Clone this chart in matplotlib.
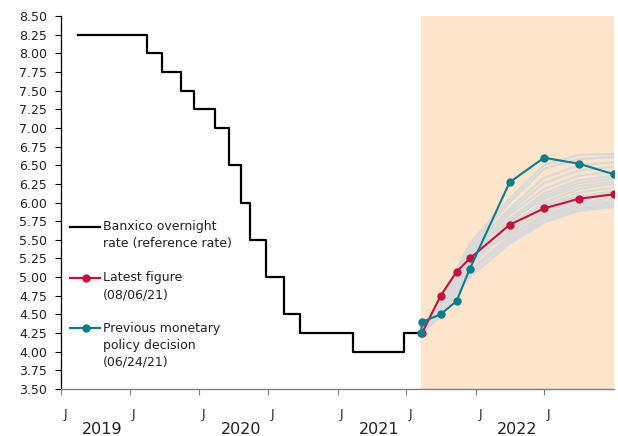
import numpy as np
import pandas as pd
from matplotlib import pyplot as plt
from matplotlib.lines import Line2D

# Banxico overnight rate (step series)
rate_dates = pd.to_datetime([
    "2019-02-14", "2019-08-15", "2019-09-26", "2019-11-14", "2019-12-19",
    "2020-02-13", "2020-03-20", "2020-04-21", "2020-05-14", "2020-06-25",
    "2020-08-13", "2020-09-24", "2021-02-11", "2021-06-24", "2021-08-09"])
rate_values = [8.25, 8.00, 7.75, 7.50, 7.25, 7.00, 6.50, 6.00, 5.50, 5.00,
               4.50, 4.25, 4.00, 4.25, 4.25]

# latest figure (08/06/21)
latest_dates = pd.to_datetime([
    "2021-08-12", "2021-09-30", "2021-11-11", "2021-12-16",
    "2022-03-31", "2022-06-30", "2022-09-30", "2022-12-31"])
latest_values = [4.25, 4.75, 5.07, 5.25, 5.70, 5.92, 6.05, 6.11]

# previous monetary policy decision (06/24/21)
prev_dates = pd.to_datetime([
    "2021-08-09", "2021-08-12", "2021-09-30", "2021-11-11", "2021-12-16",
    "2022-03-31", "2022-06-30", "2022-09-30", "2022-12-31"])
prev_values = [4.25, 4.40, 4.50, 4.68, 5.11, 6.27, 6.60, 6.52, 6.38]

# historical implied paths (gray lines), same dates as latest figure
gray_paths = [
    [4.30, 4.70, 5.10, 5.45, 6.05, 6.50, 6.64, 6.65],
    [4.28, 4.65, 5.05, 5.40, 6.00, 6.45, 6.58, 6.61],
    [4.27, 4.60, 5.00, 5.35, 5.92, 6.33, 6.50, 6.54],
    [4.26, 4.62, 4.98, 5.30, 5.88, 6.26, 6.43, 6.48],
    [4.25, 4.55, 4.95, 5.30, 5.84, 6.18, 6.36, 6.41],
    [4.27, 4.60, 4.95, 5.25, 5.78, 6.12, 6.30, 6.36],
    [4.25, 4.55, 4.90, 5.20, 5.74, 6.08, 6.26, 6.32],
    [4.28, 4.65, 5.00, 5.30, 5.76, 6.05, 6.22, 6.28],
    [4.26, 4.58, 4.92, 5.20, 5.68, 6.00, 6.18, 6.25],
    [4.25, 4.55, 4.88, 5.15, 5.63, 5.96, 6.13, 6.20],
    [4.30, 4.72, 5.10, 5.38, 5.72, 5.95, 6.08, 6.15],
    [4.27, 4.62, 4.95, 5.20, 5.60, 5.88, 6.03, 6.10],
    [4.25, 4.52, 4.85, 5.10, 5.54, 5.84, 5.99, 6.06],
    [4.28, 4.68, 5.02, 5.25, 5.57, 5.81, 5.96, 6.02],
    [4.25, 4.50, 4.80, 5.05, 5.50, 5.79, 5.93, 5.99],
    [4.26, 4.58, 4.88, 5.10, 5.47, 5.75, 5.91, 5.96],
    [4.25, 4.48, 4.78, 5.00, 5.45, 5.73, 5.89, 5.94],
]

forecast_start = pd.Timestamp("2021-08-09")
x_start, x_end = pd.Timestamp("2019-01-01"), pd.Timestamp("2023-01-01")
tick_dates = pd.date_range("2019-01-01", "2022-07-01", freq="6MS")
years = [2019, 2020, 2021, 2022]

RED = "#C0143C"
TEAL = "#0E7C8B"
SHADE = "#FDE5CC"

legend_items = [
    ("black", None, ["Banxico overnight", "rate (reference rate)"]),
    (RED, "o", ["Latest figure", "(08/06/21)"]),
    (TEAL, "o", ["Previous monetary", "policy decision", "(06/24/21)"]),
]

fig = plt.figure(figsize=(6.18, 4.36), dpi=100)
ax = fig.add_axes([61 / 618, 1 - 389 / 436, 553 / 618, 373 / 436])

ax.axvspan(forecast_start, x_end, color=SHADE, lw=0, zorder=0)
for path in gray_paths:
    ax.plot(latest_dates, path, color="#D9D9D9", lw=1.7, zorder=1)
ax.plot(rate_dates, rate_values, color="black", lw=1.6, drawstyle="steps-post", zorder=2)
ax.plot(latest_dates, latest_values, color=RED, lw=1.5, marker="o", ms=5, zorder=3)
ax.plot(prev_dates, prev_values, color=TEAL, lw=1.5, marker="o", ms=5, zorder=4)

ax.set_xlim(x_start, x_end)
ax.set_ylim(3.5, 8.5)
ax.set_yticks(np.arange(3.5, 8.51, 0.25))
ax.yaxis.set_major_formatter(plt.FormatStrFormatter("%.2f"))
ax.tick_params(axis="y", length=4, width=0.8, pad=6, labelsize=9, colors="black")
ax.tick_params(axis="y", labelcolor="#222222")

ax.set_xticks(tick_dates)
ax.set_xticklabels([])
ax.set_xticks(tick_dates + pd.Timedelta(days=11), minor=True)
ax.set_xticklabels(["J"] * len(tick_dates), minor=True)
ax.tick_params(axis="x", which="major", length=4, width=0.8, color="#808080")
ax.tick_params(axis="x", which="minor", length=0, pad=14, labelsize=9, labelcolor="#222222")

for yr in years:
    ax.text(pd.Timestamp(f"{yr}-04-20"), -0.088, str(yr), transform=ax.get_xaxis_transform(),
            ha="center", va="top", fontsize=11.5, color="#222222")

for s in ["top", "right"]:
    ax.spines[s].set_visible(False)
ax.spines["left"].set_color("black")
ax.spines["left"].set_linewidth(0.9)
ax.spines["bottom"].set_color("#808080")
ax.spines["bottom"].set_linewidth(1.0)

# legend, drawn by hand at the left of the plot
line_step = 17 / 373
entry_y = [0.435, 0.298, 0.1635]
for (color, marker, lines), y in zip(legend_items, entry_y):
    ax.add_line(Line2D([9 / 553, 39 / 553], [y, y], color=color, lw=1.6,
                       transform=ax.transAxes, clip_on=False, zorder=5))
    if marker:
        ax.add_line(Line2D([25 / 553], [y], color=color, marker=marker, ms=5,
                           transform=ax.transAxes, clip_on=False, zorder=5))
    for k, txt in enumerate(lines):
        ax.text(42 / 553, y - k * line_step, txt, transform=ax.transAxes,
                ha="left", va="center", fontsize=9, color="#222222")

fig.savefig("out.png", dpi=100)
